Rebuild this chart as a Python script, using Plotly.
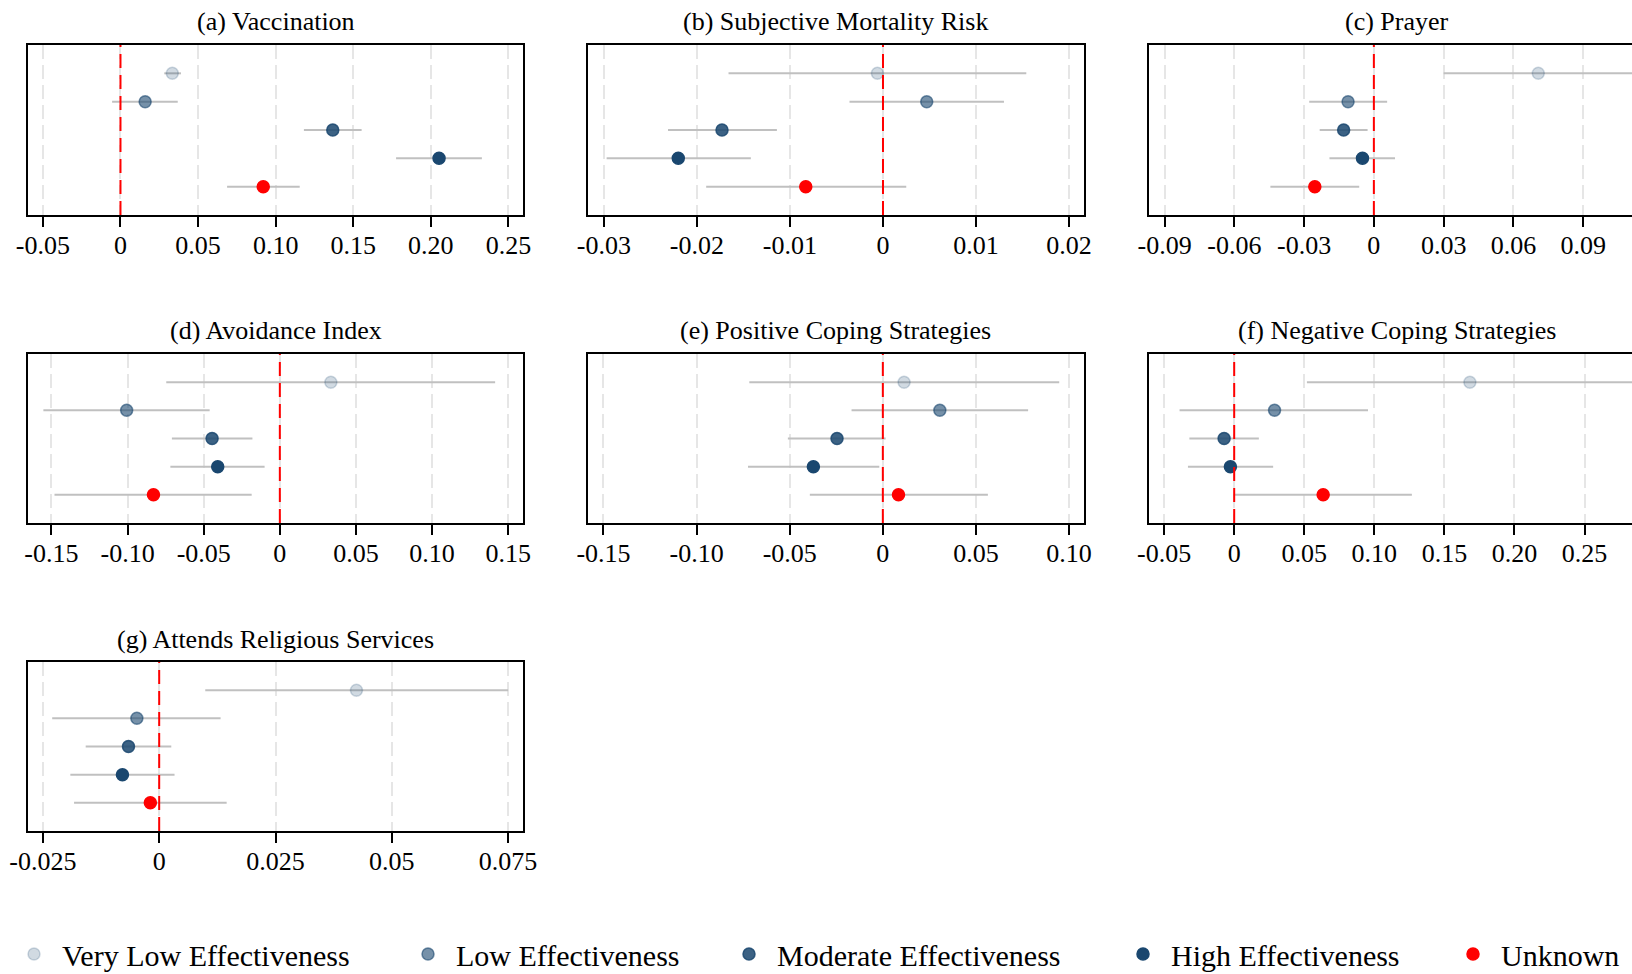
import plotly.graph_objects as go

# Effectiveness groups (top to bottom in every panel)
groups = ["Very Low Effectiveness", "Low Effectiveness", "Moderate Effectiveness",
          "High Effectiveness", "Unknown"]
group_colors = ["rgba(26,71,111,0.2)", "rgba(26,71,111,0.6)", "rgba(26,71,111,0.85)",
                "rgba(26,71,111,1)", "rgba(255,0,0,1)"]

titles = ["(a) Vaccination", "(b) Subjective Mortality Risk", "(c) Prayer",
          "(d) Avoidance Index", "(e) Positive Coping Strategies",
          "(f) Negative Coping Strategies", "(g) Attends Religious Services"]

# Point estimates and 95% confidence bounds per outcome
vacc_est = [0.0334, 0.0159, 0.1368, 0.2053, 0.0920]
vacc_lo = [0.0282, -0.0054, 0.1182, 0.1776, 0.0687]
vacc_hi = [0.0390, 0.0369, 0.1554, 0.2329, 0.1155]

mort_est = [-0.0006, 0.0047, -0.0173, -0.0220, -0.0083]
mort_lo = [-0.0166, -0.0036, -0.0231, -0.0297, -0.0190]
mort_hi = [0.0154, 0.0130, -0.0114, -0.0142, 0.0025]

pray_est = [0.0707, -0.0111, -0.0130, -0.0049, -0.0254]
pray_lo = [0.0300, -0.0278, -0.0233, -0.0191, -0.0445]
pray_hi = [0.1110, 0.0057, -0.0027, 0.0091, -0.0063]

avoid_est = [0.0335, -0.1006, -0.0445, -0.0408, -0.0830]
avoid_lo = [-0.0746, -0.1553, -0.0709, -0.0719, -0.1480]
avoid_hi = [0.1414, -0.0461, -0.0180, -0.0100, -0.0185]

poscope_est = [0.0114, 0.0306, -0.0246, -0.0373, 0.0084]
poscope_lo = [-0.0717, -0.0168, -0.0510, -0.0724, -0.0392]
poscope_hi = [0.0947, 0.0780, 0.0015, -0.0019, 0.0564]

negcope_est = [0.1682, 0.0288, -0.0072, -0.0027, 0.0635]
negcope_lo = [0.0519, -0.0390, -0.0320, -0.0330, 0.0000]
negcope_hi = [0.2839, 0.0955, 0.0176, 0.0278, 0.1268]

relig_est = [0.0424, -0.0048, -0.0066, -0.0079, -0.0019]
relig_lo = [0.0099, -0.0230, -0.0158, -0.0191, -0.0183]
relig_hi = [0.0750, 0.0132, 0.0026, 0.0033, 0.0145]

# Tick values and labels per panel
vacc_ticks = [-0.05, 0, 0.05, 0.10, 0.15, 0.20, 0.25]
vacc_labels = ["-0.05", "0", "0.05", "0.10", "0.15", "0.20", "0.25"]
mort_ticks = [-0.03, -0.02, -0.01, 0, 0.01, 0.02]
mort_labels = ["-0.03", "-0.02", "-0.01", "0", "0.01", "0.02"]
pray_ticks = [-0.09, -0.06, -0.03, 0, 0.03, 0.06, 0.09]
pray_labels = ["-0.09", "-0.06", "-0.03", "0", "0.03", "0.06", "0.09"]
avoid_ticks = [-0.15, -0.10, -0.05, 0, 0.05, 0.10, 0.15]
avoid_labels = ["-0.15", "-0.10", "-0.05", "0", "0.05", "0.10", "0.15"]
poscope_ticks = [-0.15, -0.10, -0.05, 0, 0.05, 0.10]
poscope_labels = ["-0.15", "-0.10", "-0.05", "0", "0.05", "0.10"]
negcope_ticks = [-0.05, 0, 0.05, 0.10, 0.15, 0.20, 0.25]
negcope_labels = ["-0.05", "0", "0.05", "0.10", "0.15", "0.20", "0.25"]
relig_ticks = [-0.025, 0, 0.025, 0.05, 0.075]
relig_labels = ["-0.025", "0", "0.025", "0.05", "0.075"]

panels = [
    (vacc_est, vacc_lo, vacc_hi, vacc_ticks, vacc_labels, [-0.0596, 0.2594]),
    (mort_est, mort_lo, mort_hi, mort_ticks, mort_labels, [-0.0317, 0.0216]),
    (pray_est, pray_lo, pray_hi, pray_ticks, pray_labels, [-0.0967, 0.1110]),
    (avoid_est, avoid_lo, avoid_hi, avoid_ticks, avoid_labels, [-0.1654, 0.1597]),
    (poscope_est, poscope_lo, poscope_hi, poscope_ticks, poscope_labels, [-0.1583, 0.1080]),
    (negcope_est, negcope_lo, negcope_hi, negcope_ticks, negcope_labels, [-0.0608, 0.2839]),
    (relig_est, relig_lo, relig_hi, relig_ticks, relig_labels, [-0.0282, 0.0782]),
]

W, H = 1632, 974
FONT = "Liberation Serif"

# Panel boxes in pixels: columns (left, right), rows (top, bottom)
col_px = [(28, 523), (588, 1084), (1149, 1632)]
row_px = [(45, 215), (354, 523), (662, 831)]

# One legend per group, laid out along the bottom edge
legend_x_px = [6, 400, 721, 1115, 1445]
legend_y = 1 - 954 / H

fig = go.Figure()
layout = dict(
    width=W, height=H,
    margin=dict(l=0, r=0, t=0, b=0, autoexpand=False),
    paper_bgcolor="white", plot_bgcolor="white",
    font=dict(family=FONT, color="black"),
    showlegend=True,
)
for g in range(len(groups)):
    key = "legend" if g == 0 else f"legend{g + 1}"
    layout[key] = dict(
        orientation="h", x=legend_x_px[g] / W, xanchor="left",
        y=legend_y, yanchor="middle",
        font=dict(family=FONT, size=30, color="black"),
        bgcolor="rgba(0,0,0,0)", borderwidth=0, itemwidth=46,
    )

shapes = []
annotations = []

for i, (est, lo, hi, ticks, labels, xr) in enumerate(panels):
    r, c = divmod(i, 3)
    n = i + 1
    xa = "x" if n == 1 else f"x{n}"
    ya = "y" if n == 1 else f"y{n}"
    x0, x1 = col_px[c]
    y0, y1 = row_px[r]
    open_right = (c == 2)

    layout[f"xaxis{'' if n == 1 else n}"] = dict(
        domain=[x0 / W, x1 / W], anchor=ya, range=xr,
        tickmode="array", tickvals=ticks, ticktext=labels,
        ticks="outside", ticklen=10, tickwidth=1.5, tickcolor="black",
        tickfont=dict(family=FONT, size=26, color="black"),
        ticklabelstandoff=-4,
        showgrid=True, gridcolor="#e6e6e6", gridwidth=1.5, griddash="14px,6px",
        zeroline=False, showline=True, linecolor="black", linewidth=2,
        mirror=True,
    )
    layout[f"yaxis{'' if n == 1 else n}"] = dict(
        domain=[1 - y1 / H, 1 - y0 / H], anchor=xa,
        type="category", categoryorder="array", categoryarray=groups,
        range=[len(groups), -1],
        showticklabels=False, ticks="", showgrid=False, zeroline=False,
        showline=True, linecolor="black", linewidth=2,
        mirror=False if open_right else True,
    )

    for g, name in enumerate(groups):
        fig.add_trace(go.Scatter(
            x=[est[g]], y=[name], xaxis=xa, yaxis=ya,
            mode="markers", name=name,
            legend="legend" if g == 0 else f"legend{g + 1}",
            showlegend=(i == 0),
            marker=dict(size=12, color=group_colors[g],
                        line=dict(color=group_colors[g], width=1.5)),
            error_x=dict(type="data", symmetric=False,
                         array=[hi[g] - est[g]], arrayminus=[est[g] - lo[g]],
                         color="rgb(192,192,192)", thickness=2, width=0),
            hoverinfo="skip",
        ))

    # dashed reference line at zero
    shapes.append(dict(
        type="line", xref=xa, yref=f"{ya} domain", x0=0, x1=0, y0=0, y1=1,
        line=dict(color="red", width=2, dash="14px,7px"), layer="above",
    ))
    annotations.append(dict(
        text=titles[i], xref="paper", yref="paper",
        x=(x0 + (x1 if not open_right else x0 + 496)) / 2 / W,
        y=1 - (y0 - 23) / H, xanchor="center", yanchor="middle",
        showarrow=False, font=dict(family=FONT, size=26, color="black"),
    ))

layout["shapes"] = shapes
layout["annotations"] = annotations
fig.update_layout(**layout)
fig.write_html("out.html")
